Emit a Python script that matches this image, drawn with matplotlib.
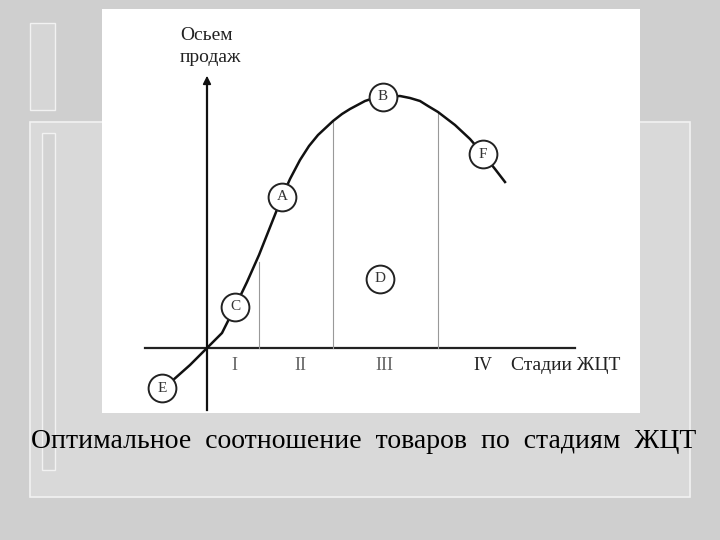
import numpy as np
import matplotlib.pyplot as plt
from matplotlib.patches import Rectangle

# sales curve (time, sales), origin at the crossing of the axes
curve_x = [-0.35, -0.17, 0.00, 0.15, 0.28, 0.40, 0.52, 0.75, 0.83, 0.93, 1.02, 1.11, 1.26,
           1.35, 1.43, 1.58, 1.67, 1.76, 1.93, 2.03, 2.13, 2.21, 2.31, 2.48, 2.63, 2.76,
           2.88, 2.98]
curve_y = [-0.33, -0.17, 0.00, 0.15, 0.41, 0.66, 0.93, 1.51, 1.69, 1.88, 2.02, 2.13, 2.27,
           2.34, 2.39, 2.47, 2.50, 2.51, 2.52, 2.50, 2.47, 2.42, 2.36, 2.23, 2.09, 1.94,
           1.79, 1.66]

# lettered points
pt_labels = ['E', 'C', 'A', 'B', 'F', 'D']
pt_x = [-0.45, 0.28, 0.75, 1.76, 2.76, 1.73]
pt_y = [-0.40, 0.41, 1.51, 2.51, 1.94, 0.69]

# stage borders and stage names
border_x = [0.52, 1.26, 2.31]
border_top = [0.86, 2.27, 2.36]
stage_names = ['I', 'II', 'III', 'IV']
stage_x = [0.27, 0.93, 1.77, 2.76]

serif = 'Liberation Serif'

fig = plt.figure(figsize=(7.2, 5.4), dpi=100)
fig.patch.set_facecolor('#cfcfcf')

# slide frame (behind the diagram)
fig.patches.append(Rectangle((30/720, 1-497/540), 660/720, 375/540, transform=fig.transFigure,
                             facecolor='#d9d9d9', edgecolor='#f2f2f2', lw=1.2, zorder=-3))
fig.patches.append(Rectangle((30/720, 1-110/540), 25/720, 87/540, transform=fig.transFigure,
                             facecolor='#d6d6d6', edgecolor='#f2f2f2', lw=1.0, zorder=-3))
fig.patches.append(Rectangle((42/720, 1-470/540), 13/720, 337/540, transform=fig.transFigure,
                             facecolor='#d3d3d3', edgecolor='#f2f2f2', lw=1.0, zorder=-2))

ax = fig.add_axes([102/720, 1-413/540, 538/720, 404/540])
ax.set_zorder(5)
ax.set_facecolor('white')
ax.set_xlim(-1.05, 4.33)
ax.set_ylim(-0.65, 3.39)
for s in ax.spines.values():
    s.set_visible(False)
ax.set_xticks([])
ax.set_yticks([])

# axes of the diagram
ax.plot([-0.62, 3.68], [0, 0], color='#222222', lw=1.6)
ax.plot([0, 0], [-0.62, 2.62], color='#111111', lw=1.6)
ax.annotate('', xy=(0, 2.75), xytext=(0, 2.55),
            arrowprops=dict(arrowstyle='-|>', color='#111111', lw=1.2, mutation_scale=12))

for bx, bt in zip(border_x, border_top):
    ax.plot([bx, bx], [0, bt], color='#999999', lw=0.8)

ax.plot(curve_x, curve_y, color='#111111', lw=1.8, solid_joinstyle='round')

for lab, x, y in zip(pt_labels, pt_x, pt_y):
    ax.plot(x, y, 'o', ms=20, mfc='white', mec='#222222', mew=1.4)
    ax.text(x, y, lab, ha='center', va='center', fontsize=11, family=serif, color='#333333')

for name, x in zip(stage_names, stage_x):
    ax.text(x, -0.17, name, ha='center', va='center', fontsize=13, family=serif,
            color='#666666' if name != 'IV' else '#222222')
ax.text(3.04, -0.17, 'Стадии ЖЦТ', ha='left', va='center', fontsize=14,
        family=serif, color='#222222')

ax.text(-0.27, 3.13, 'Осьем', ha='left', va='center', fontsize=14, family=serif, color='#222222')
ax.text(-0.27, 2.91, 'продаж', ha='left', va='center', fontsize=14, family=serif, color='#222222')

fig.text(364/720, 1-441/540, 'Оптимальное  соотношение  товаров  по  стадиям  ЖЦТ',
         ha='center', va='center', fontsize=20, family=serif, color='black')

fig.savefig('out.png', dpi=100, facecolor=fig.get_facecolor())
